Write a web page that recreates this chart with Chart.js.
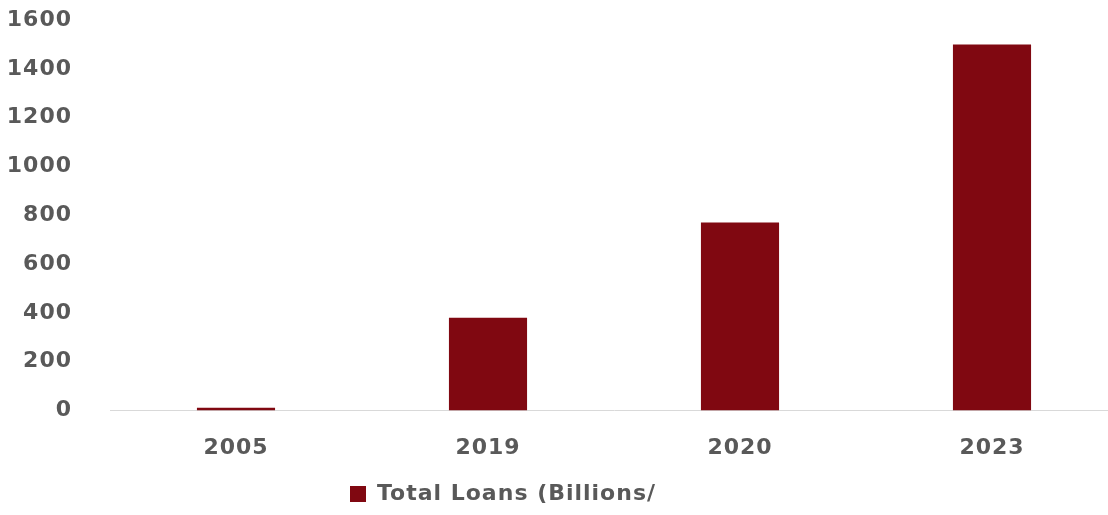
<!DOCTYPE html>
<html>
<head>
<meta charset="utf-8">
<script src="https://cdn.jsdelivr.net/npm/chart.js@4"></script>
<style>
  html, body { margin: 0; padding: 0; background: #fff; overflow: hidden; }
  #wrap { width: 1130px; height: 515px; position: relative; }
</style>
</head>
<body>
<div id="wrap"><canvas id="grafico"></canvas></div>
<script>
const years = ['2005', '2019', '2020', '2023'];
const totalLoans = [12, 380, 770, 1500];
const yTicks = [0, 200, 400, 600, 800, 1000, 1200, 1400, 1600];
const seriesName = 'Total Loans (Billions/';

const grisTexto = '#595959';
const rojo = '#800811';
const fuente = { family: 'DejaVu Sans', size: 22, weight: 'bold' };

// letra un poco más espaciada (el canvas pierde el estado al redimensionar)
const espaciado = {
  id: 'espaciado',
  beforeUpdate(chart) { chart.ctx.letterSpacing = '1px'; },
  beforeDraw(chart) { chart.ctx.letterSpacing = '1px'; }
};

// la leyenda va algo a la izquierda del centro
const leyendaIzq = {
  id: 'leyendaIzq',
  afterLayout(chart) {
    chart.legend.left -= 56;
    chart.legend.right -= 56;
  }
};

const ctx = document.getElementById('grafico').getContext('2d');

const grafico = new Chart(ctx, {
  type: 'bar',
  data: {
    labels: years,
    datasets: [{
      label: seriesName,
      data: totalLoans,
      backgroundColor: rojo,
      barPercentage: 0.31,
      categoryPercentage: 1
    }]
  },
  plugins: [espaciado, leyendaIzq],
  options: {
    responsive: true,
    maintainAspectRatio: false,
    animation: false,
    layout: { padding: { top: 20, left: 0, right: 12, bottom: 0 } },
    plugins: {
      tooltip: { enabled: false },
      legend: {
        position: 'bottom',
        labels: {
          color: grisTexto,
          font: fuente,
          boxWidth: 16,
          boxHeight: 16,
          padding: 6
        }
      }
    },
    scales: {
      x: {
        grid: { display: false },
        border: { display: true, color: '#d9d9d9', width: 1 },
        ticks: { color: grisTexto, font: fuente, padding: 16 }
      },
      y: {
        min: yTicks[0],
        max: yTicks[yTicks.length - 1],
        afterBuildTicks: axis => {
          axis.ticks = yTicks.map(v => ({ value: v }));
        },
        afterFit: axis => {
          axis.width = 110;
          axis.paddingTop = 0;
        },
        grid: { display: false },
        border: { display: false },
        ticks: {
          color: grisTexto,
          font: fuente,
          padding: 30,
          callback: v => String(v)
        }
      }
    }
  }
});
</script>
</body>
</html>
